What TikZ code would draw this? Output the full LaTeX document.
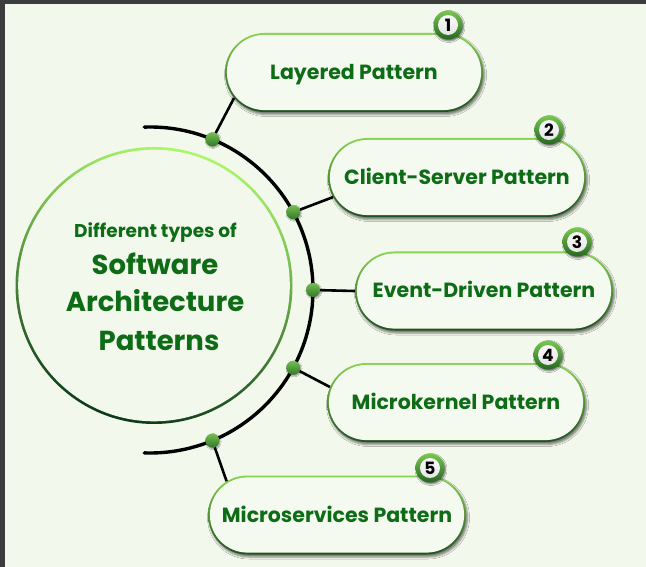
\documentclass[tikz,border=0pt]{standalone}
\usepackage{fontspec}
\setmainfont{Poppins}
\usetikzlibrary{shapes.misc,shadows.blur,calc}

\definecolor{bg}{RGB}{242,248,235}
\definecolor{frame}{RGB}{60,60,60}
\definecolor{txt}{RGB}{14,108,22}
\definecolor{ringlight}{RGB}{170,248,105}
\definecolor{ringdark}{RGB}{12,58,26}
\definecolor{pilltop}{RGB}{135,212,80}
\definecolor{pillbot}{RGB}{30,82,32}
\definecolor{pillfill}{RGB}{245,250,240}
\definecolor{badgelight}{RGB}{120,200,80}
\definecolor{badgedark}{RGB}{36,104,32}
\definecolor{dotlight}{RGB}{115,190,80}
\definecolor{dotdark}{RGB}{50,120,40}

\tikzset{
  hub/.style={circle, minimum size=277pt, inner sep=0pt,
    top color=ringlight, bottom color=ringdark, shading angle=-15,
    path picture={\fill[bg] (path picture bounding box.center) circle (135.8pt);}},
  hubsmall/.style={anchor=base, text=txt, font=\bfseries\fontsize{18.5}{18.5}\selectfont, inner sep=0pt},
  hubbig/.style={anchor=base, text=txt, font=\bfseries\fontsize{27.5}{27.5}\selectfont, inner sep=0pt},
  pill/.style={rounded rectangle, minimum width=258pt, minimum height=79pt, inner sep=0pt,
    top color=pilltop, bottom color=pillbot,
    blur shadow={shadow xshift=1.5pt, shadow yshift=-2.5pt, shadow opacity=50, shadow blur radius=2pt},
    path picture={\fill[pillfill, rounded corners=37.6pt]
      ($(path picture bounding box.south west)+(1.9pt,1.9pt)$) rectangle
      ($(path picture bounding box.north east)+(-1.9pt,-1.9pt)$);},
    text=txt, font=\bfseries\fontsize{20.5}{22}\selectfont, text height=14pt, text depth=0pt},
  badge/.style={circle, minimum size=29pt, inner sep=0pt,
    top color=badgelight, bottom color=badgedark,
    blur shadow={shadow xshift=1pt, shadow yshift=-1.5pt, shadow opacity=55, shadow blur radius=1.5pt},
    path picture={\shade[top color=white, bottom color=black!12]
      (path picture bounding box.center) circle (10pt);},
    text=black, font=\bfseries\fontsize{17}{17}\selectfont},
  dot/.style={circle, minimum size=14pt, inner sep=0pt,
    top color=dotlight, bottom color=dotdark,
    blur shadow={shadow xshift=0.8pt, shadow yshift=-1pt, shadow opacity=40, shadow blur radius=1pt}},
  conn/.style={line width=2.6pt, black},
  spine/.style={line width=3.4pt, black, line cap=round}
}

\begin{document}
\begin{tikzpicture}[x=1pt,y=1pt]
\useasboundingbox (0,0) rectangle (646,-567);
\fill[bg] (0,0) rectangle (646,-567);
\fill[frame] (0,0) rectangle (646,-4.5);
\fill[frame] (0,0) rectangle (4.5,-567);

% central circle and its title
\node[hub] (hub) at (154,-285.5) {};
\node[hubsmall] (title1) at (155.5,-237) {Different types of};
\node[hubbig] (title2) at (155,-275) {Software};
\node[hubbig] (title3) at (155,-312) {Architecture};
\node[hubbig] (title4) at (159,-350) {Patterns};

% curved spine
\coordinate (arcC) at (150,-290);
\draw[spine] ($(arcC)+(92:163)$) arc[start angle=92, end angle=-92, radius=163];

% pattern boxes
\node[pill] (p1) at (354,-72.5) {Layered Pattern};
\node[pill] (p2) at (457,-177.5) {Client-Server Pattern};
\node[pill] (p3) at (484,-291) {Event-Driven Pattern};
\node[pill] (p4) at (456,-402.5) {Microkernel Pattern};
\node[pill] (p5) at (337,-515) {Microservices Pattern};

% number badges
\node[badge] (b1) at (448,-25) {1};
\node[badge] (b2) at (549,-130) {2};
\node[badge] (b3) at (577,-242) {3};
\node[badge] (b4) at (548,-355) {4};
\node[badge] (b5) at (430,-468) {5};

% joints on the spine
\node[dot] (d1) at ($(arcC)+(67.5:163)$) {};
\node[dot] (d2) at ($(arcC)+(28.5:163)$) {};
\node[dot] (d3) at ($(arcC)+(0:163)$) {};
\node[dot] (d4) at ($(arcC)+(-28.5:163)$) {};
\node[dot] (d5) at ($(arcC)+(-67.5:163)$) {};

% links from joints to boxes
\draw[conn] (d1) -- (p1.192);
\draw[conn] (d2) -- (p2.189.4);
\draw[conn] (d3) -- (p3.180);
\draw[conn] (d4) -- (p4.173.3);
\draw[conn] (d5) -- (p5.163);
\end{tikzpicture}
\end{document}
